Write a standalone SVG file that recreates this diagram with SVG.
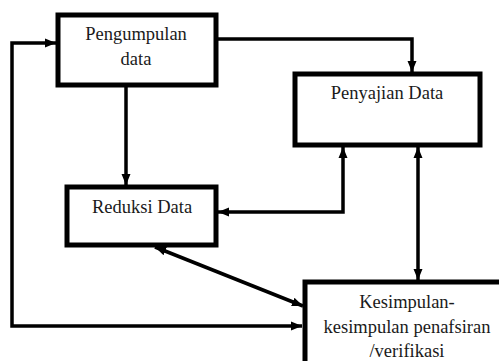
<svg xmlns="http://www.w3.org/2000/svg" width="499" height="361" viewBox="0 0 499 361">
  <style>
    .box { fill: #ffffff; stroke: #000000; stroke-width: 5; }
    .lbl { font-family: 'Liberation Serif', 'DejaVu Serif', serif; font-size: 18.5px; fill: #1a1a1a; text-anchor: middle; }
    .con { fill: none; stroke: #000000; stroke-width: 3.5; }
  </style>
  <defs>
    <marker id="arrow" markerUnits="userSpaceOnUse" markerWidth="12" markerHeight="12" viewBox="0 0 12 12" refX="11" refY="6" orient="auto-start-reverse">
      <path d="M0,1.5 L11,6 L0,10.5 Z" fill="#000000"/>
    </marker>
  </defs>
  <rect width="499" height="361" fill="#ffffff"/>

  <g id="connectors">
    <path class="con" d="M302,326 L12,326 L12,43 L56,43" marker-start="url(#arrow)" marker-end="url(#arrow)"/>
    <path class="con" d="M218,39 L412,39 L412,72" marker-end="url(#arrow)"/>
    <path class="con" d="M126,87 L126,185" marker-end="url(#arrow)"/>
    <path class="con" d="M218,212 L343,212 L343,147" marker-start="url(#arrow)" marker-end="url(#arrow)"/>
    <path class="con" d="M418,147 L418,280" marker-start="url(#arrow)" marker-end="url(#arrow)"/>
    <path class="con" d="M155,247 L303,306" marker-start="url(#arrow)" marker-end="url(#arrow)"/>
  </g>

  <g id="pengumpulan">
    <rect class="box" x="58" y="15" width="158" height="70"/>
    <text class="lbl" font-family="Liberation Serif, serif" x="136" y="40">Pengumpulan</text>
    <text class="lbl" font-family="Liberation Serif, serif" x="136" y="65">data</text>
  </g>

  <g id="penyajian">
    <rect class="box" x="295" y="74" width="185" height="71"/>
    <text class="lbl" font-family="Liberation Serif, serif" x="387" y="99">Penyajian Data</text>
  </g>

  <g id="reduksi">
    <rect class="box" x="67" y="187" width="149" height="58"/>
    <text class="lbl" font-family="Liberation Serif, serif" x="142" y="213">Reduksi Data</text>
  </g>

  <g id="kesimpulan">
    <rect class="box" x="305" y="282" width="200" height="100"/>
    <text class="lbl" font-family="Liberation Serif, serif" x="407" y="308">Kesimpulan-</text>
    <text class="lbl" font-family="Liberation Serif, serif" x="407" y="333">kesimpulan penafsiran</text>
    <text class="lbl" font-family="Liberation Serif, serif" x="407" y="357">/verifikasi</text>
  </g>
</svg>
